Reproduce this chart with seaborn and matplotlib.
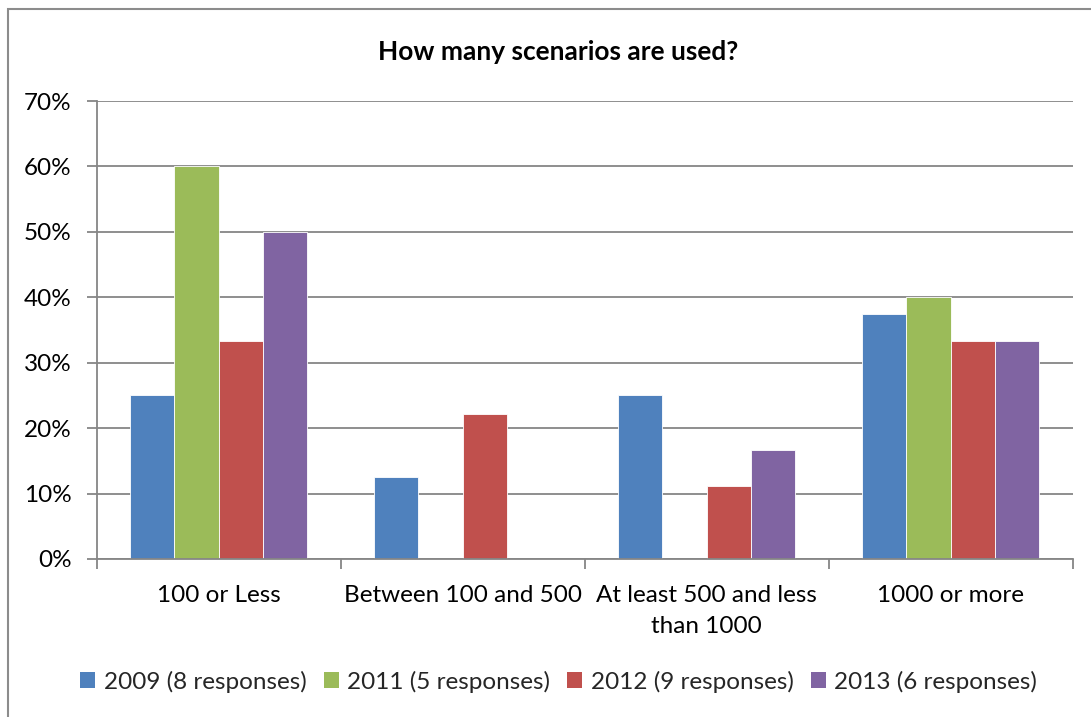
import matplotlib
matplotlib.use("Agg")
import matplotlib.pyplot as plt
from matplotlib.patches import Patch, Rectangle
from matplotlib.ticker import FixedLocator, FuncFormatter
import pandas as pd
import seaborn as sns

# Survey results: share of respondents per scenario-count bucket
categories = ["100 or Less", "Between 100 and 500",
              "At least 500 and less\nthan 1000", "1000 or more"]
series = ["2009 (8 responses)", "2011 (5 responses)",
          "2012 (9 responses)", "2013 (6 responses)"]
share_2009 = [0.25, 0.125, 0.25, 0.375]
share_2011 = [0.60, 0.0, 0.0, 0.40]
share_2012 = [0.3333, 0.2222, 0.1111, 0.3333]
share_2013 = [0.50, 0.0, 0.1667, 0.3333]
colors = ["#4F81BD", "#9BBB59", "#C0504D", "#8064A2"]

rows = []
for name, vals in zip(series, [share_2009, share_2011, share_2012, share_2013]):
    for cat, v in zip(categories, vals):
        rows.append({"category": cat, "series": name, "share": v})
df = pd.DataFrame(rows)

sns.set_theme(style="white")
plt.rcParams["font.family"] = ["Lato", "DejaVu Sans"]

fig = plt.figure(figsize=(10.91, 7.17), dpi=100)
ax = fig.add_axes([0.0886, 0.2204, 0.8946, 0.6387])

sns.barplot(data=df, x="category", y="share", hue="series",
            order=categories, hue_order=series, palette=colors,
            width=0.725, gap=0, saturation=1, errorbar=None,
            edgecolor="white", linewidth=0.6, ax=ax, legend=False)

grid_c = "#868686"
ax.set_ylim(0, 0.70)
ax.set_xlim(-0.5, len(categories) - 0.5)
ax.yaxis.set_major_locator(FixedLocator([i / 10 for i in range(8)]))
ax.yaxis.set_major_formatter(FuncFormatter(lambda v, _: f"{v:.0%}"))
ax.yaxis.grid(True, color=grid_c, linewidth=1.3)
ax.set_axisbelow(True)

# category boundaries carry the tick marks, labels sit at group centres
ax.set_xticks([i - 0.5 for i in range(len(categories) + 1)])
ax.set_xticklabels([])
ax.set_xticks(range(len(categories)), minor=True)
ax.set_xticklabels(categories, minor=True, fontsize=17.5, color="black",
                   linespacing=1.6)
ax.tick_params(axis="x", which="major", length=7, width=1.3, color=grid_c,
               direction="out", bottom=True)
ax.tick_params(axis="x", which="minor", length=0, pad=18.5, bottom=True)
ax.tick_params(axis="y", length=7, width=1.3, color=grid_c, direction="out",
               left=True, pad=11, labelsize=17.5, labelcolor="black")
ax.set_xlabel("")
ax.set_ylabel("")

for side in ["top", "right"]:
    ax.spines[side].set_visible(False)
for side in ["left", "bottom"]:
    ax.spines[side].set_color(grid_c)
    ax.spines[side].set_linewidth(1.3)

fig.text(0.5115, 0.927, "How many scenarios are used?", ha="center",
         va="center", fontsize=18.9, fontweight="bold", color="black")

handles = [Patch(facecolor=c, edgecolor="none", label=s)
           for c, s in zip(colors, series)]
fig.legend(handles=handles, loc="center", bbox_to_anchor=(0.512, 0.049),
           ncol=4, frameon=False, fontsize=17.5, handlelength=0.62,
           handleheight=0.62, handletextpad=0.35, columnspacing=0.7)

# chart frame
fig.patches.append(Rectangle((8 / 1091, -0.05), 1.1, 1 - 9 / 717 + 0.05,
                             transform=fig.transFigure, fill=False,
                             edgecolor="#8C8C8C", linewidth=1.5))

fig.savefig("out.png", dpi=100, facecolor="white")
